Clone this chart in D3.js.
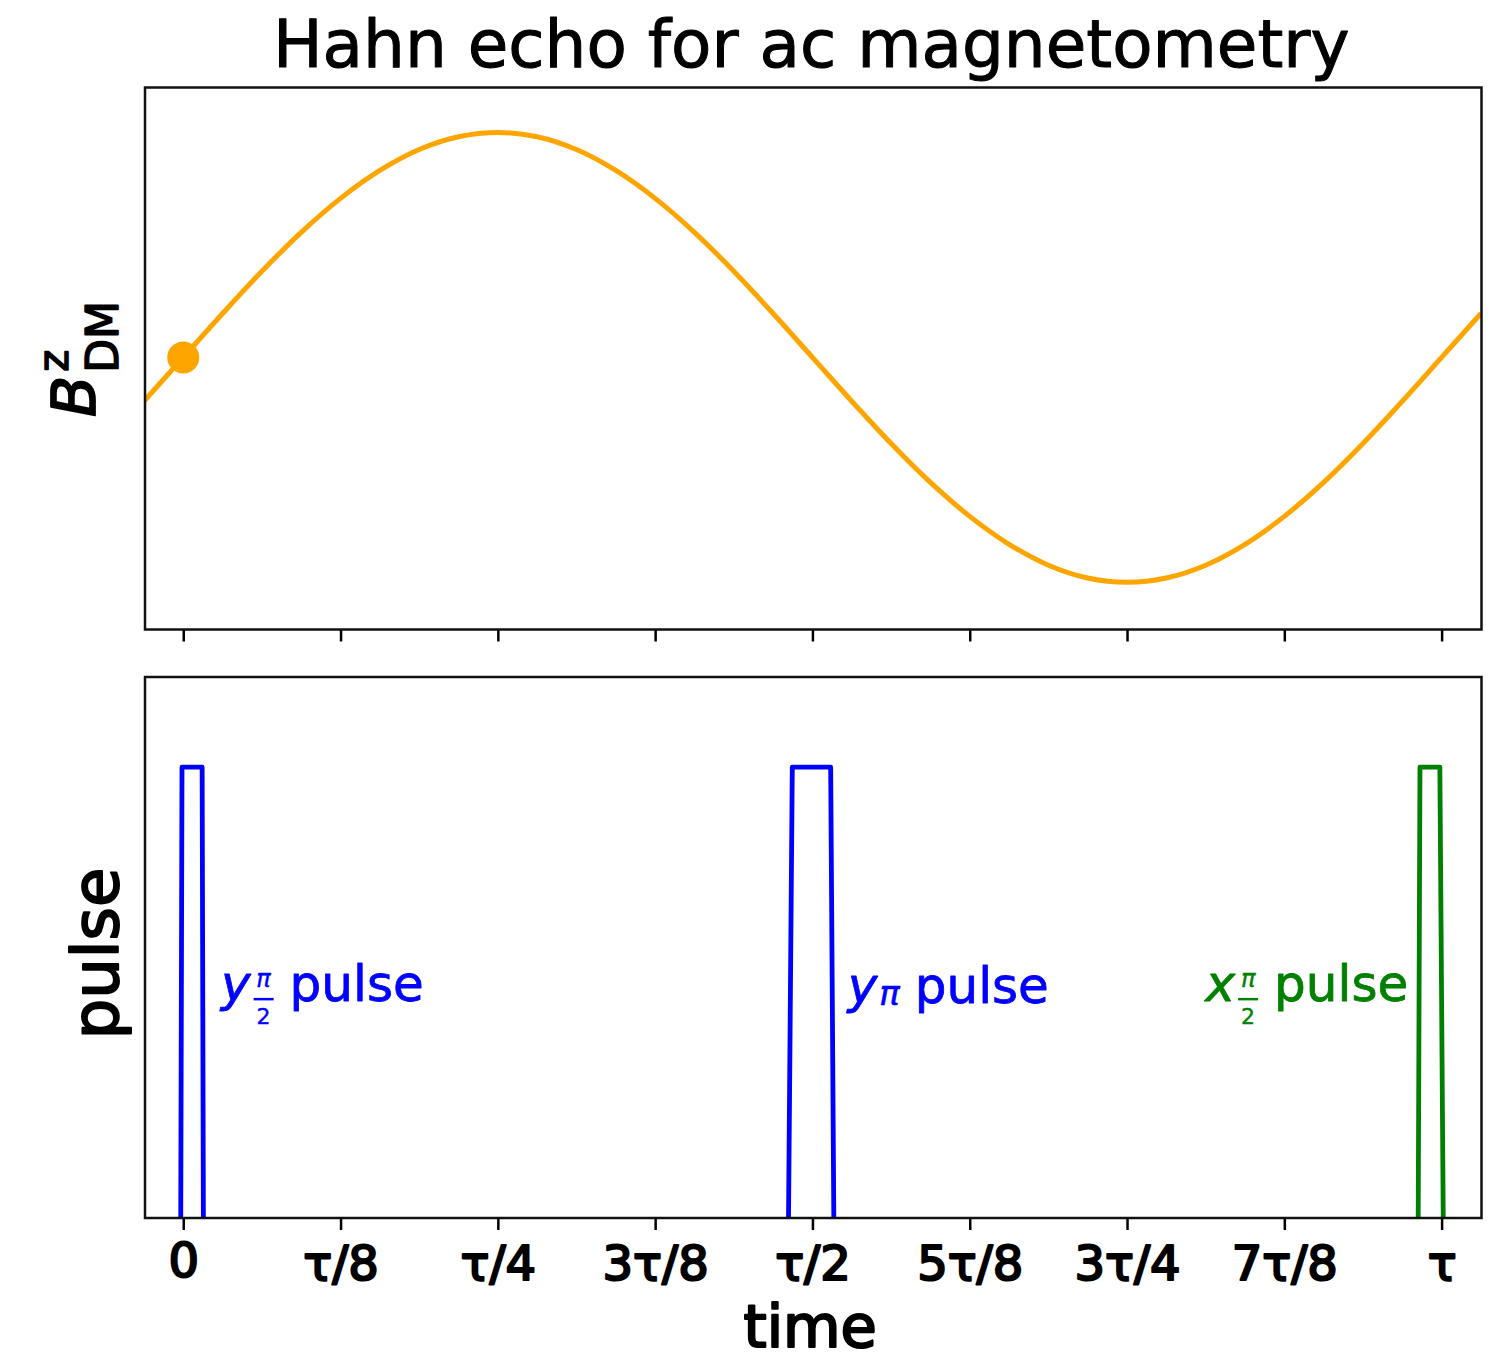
<!DOCTYPE html>
<html>
<head>
<meta charset="utf-8">
<script src="https://cdn.jsdelivr.net/npm/d3@7/dist/d3.min.js"></script>
<style>
  html, body { margin: 0; padding: 0; background: #ffffff; }
  svg { display: block; }
  text { font-family: "DejaVu Sans", sans-serif; }
</style>
</head>
<body>
<svg id="chart" width="1507" height="1362"></svg>
<script>
// ---------------- data ----------------
const chartTitle = "Hahn echo for ac magnetometry";
const xLabel = "time";
const pulseAxisLabel = "pulse";

// dark-matter field B_DM^z sampled along time (units of tau)
const fieldTimes = [-0.03125, 0, 0.03125, 0.0625, 0.09375, 0.125, 0.15625, 0.1875, 0.21875, 0.25,
  0.28125, 0.3125, 0.34375, 0.375, 0.40625, 0.4375, 0.46875, 0.5, 0.53125, 0.5625,
  0.59375, 0.625, 0.65625, 0.6875, 0.71875, 0.75, 0.78125, 0.8125, 0.84375, 0.875,
  0.90625, 0.9375, 0.96875, 1.0, 1.03125];
const fieldValues = [-0.195, 0, 0.195, 0.383, 0.556, 0.707, 0.831, 0.924, 0.981, 1.0,
  0.981, 0.924, 0.831, 0.707, 0.556, 0.383, 0.195, 0, -0.195, -0.383,
  -0.556, -0.707, -0.831, -0.924, -0.981, -1.0, -0.981, -0.924, -0.831, -0.707,
  -0.556, -0.383, -0.195, 0, 0.195];
const markerTime = [0];
const markerValue = [0];

// pulses (time in units of tau, amplitude)
const pulseYHalfTimes = [-0.002, -0.001, 0.015, 0.016];
const pulseYPiTimes = [0.481, 0.484, 0.5145, 0.517];
const pulseXHalfTimes = [0.9814, 0.9828, 0.9986, 1.0013];
const pulseLevels = [0, 1, 1, 0];

// pulse annotations
const pulseNames = ["y_half", "y_pi", "x_half"];
const pulseLetters = ["y", "y", "x"];
const pulseSubs = ["frac", "pi", "frac"];
const pulseColors = ["#0000ff", "#0000ff", "#008000"];
const labelTimes = [0.030, 0.528, 0.9735];
const labelLevels = [0.481, 0.478, 0.481];
const labelAnchors = ["start", "start", "end"];

// ticks
const tickValues = [0, 0.125, 0.25, 0.375, 0.5, 0.625, 0.75, 0.875, 1.0];
const tickLabels = ["0", "τ/8", "τ/4", "3τ/8", "τ/2", "5τ/8", "3τ/4", "7τ/8", "τ"];

// ---------------- layout ----------------
const L = 145, R = 1481.5;
const T1 = 87.5, B1 = 629.5;
const T2 = 677, B2 = 1218;

const svg = d3.select("#chart");

const x = d3.scaleLinear().domain([-0.0304, 1.0317]).range([L, R]);
const y1 = d3.scaleLinear().domain([-1.21, 1.2]).range([B1, T1]);
const y2 = d3.scaleLinear().domain([0, 1.2]).range([B2, T2]);

const defs = svg.append("defs");
defs.append("clipPath").attr("id", "clip1").append("rect")
  .attr("x", L).attr("y", T1).attr("width", R - L).attr("height", B1 - T1);
defs.append("clipPath").attr("id", "clip2").append("rect")
  .attr("x", L).attr("y", T2).attr("width", R - L).attr("height", B2 - T2);

function heavy(sel, w) {
  return sel.attr("stroke", function () { return d3.select(this).attr("fill") || "#000"; })
    .attr("stroke-width", w).attr("paint-order", "stroke").attr("stroke-linejoin", "round");
}

// ---------------- title ----------------
heavy(svg.append("text")
  .attr("x", (L + R) / 2 - 2).attr("y", 67)
  .attr("text-anchor", "middle")
  .attr("font-size", 66)
  .attr("fill", "#000")
  .text(chartTitle), 1.0);

// ---------------- top panel ----------------
const fieldData = fieldTimes.map((t, i) => ({ t, v: fieldValues[i] }));
const g1 = svg.append("g");
g1.append("path")
  .datum(fieldData)
  .attr("clip-path", "url(#clip1)")
  .attr("fill", "none")
  .attr("stroke", "#ffa500")
  .attr("stroke-width", 5)
  .attr("stroke-linejoin", "round")
  .attr("d", d3.line().x(d => x(d.t)).y(d => y1(d.v)).curve(d3.curveCatmullRom.alpha(0.5)));

g1.selectAll("circle.marker")
  .data(markerTime.map((t, i) => ({ t, v: markerValue[i] })))
  .join("circle")
  .attr("class", "marker")
  .attr("cx", d => x(d.t)).attr("cy", d => y1(d.v))
  .attr("r", 16)
  .attr("fill", "#ffa500");

const ax1 = g1.append("g").attr("transform", `translate(0,${B1})`)
  .call(d3.axisBottom(x).tickValues(tickValues).tickFormat("").tickSize(12).tickSizeOuter(0));
ax1.select(".domain").remove();
ax1.selectAll(".tick line").attr("stroke", "#000").attr("stroke-width", 2.5);

g1.append("rect")
  .attr("x", L).attr("y", T1).attr("width", R - L).attr("height", B1 - T1)
  .attr("fill", "none").attr("stroke", "#111").attr("stroke-width", 2.5);

// y label B^z_DM (rotated)
const bl = svg.append("g").attr("transform", "translate(95,417) rotate(-90)");
const bMain = heavy(bl.append("text")
  .attr("x", 0).attr("y", 0)
  .attr("font-size", 60).attr("font-style", "italic")
  .attr("fill", "#000").text("B"), 1.8);
const bw = bMain.node().getComputedTextLength();
heavy(bl.append("text").attr("x", bw + 4).attr("y", -27)
  .attr("font-size", 42).attr("fill", "#000").text("z"), 1.5);
heavy(bl.append("text").attr("x", bw + 3).attr("y", 23)
  .attr("font-size", 44).attr("fill", "#000").text("DM"), 1.5);

// ---------------- bottom panel ----------------
const g2 = svg.append("g");
const pulseLine = d3.line().x(d => x(d.t)).y(d => y2(d.v));
const pulseSeries = [pulseYHalfTimes, pulseYPiTimes, pulseXHalfTimes].map((ts, k) => ({
  name: pulseNames[k],
  color: pulseColors[k],
  pts: ts.map((t, i) => ({ t, v: pulseLevels[i] }))
}));
g2.selectAll("path.pulse")
  .data(pulseSeries)
  .join("path")
  .attr("class", "pulse")
  .attr("clip-path", "url(#clip2)")
  .attr("fill", "none")
  .attr("stroke", d => d.color)
  .attr("stroke-width", 4.8)
  .attr("stroke-linejoin", "round")
  .attr("d", d => pulseLine(d.pts));

// pulse labels
pulseNames.forEach((name, k) => {
  const color = pulseColors[k];
  const grp = g2.append("g");
  const main = heavy(grp.append("text").attr("x", 0).attr("y", 0)
    .attr("font-size", 50).attr("font-style", "italic").attr("fill", color)
    .text(pulseLetters[k]), 0.8);
  let cx = main.node().getComputedTextLength() + 3;
  if (pulseSubs[k] === "frac") {
    const fw = 20;
    heavy(grp.append("text").attr("x", cx + fw / 2).attr("y", -14)
      .attr("text-anchor", "middle").attr("font-size", 24).attr("font-style", "italic")
      .attr("fill", color).text("π"), 0.4);
    grp.append("line").attr("x1", cx).attr("x2", cx + fw)
      .attr("y1", -2).attr("y2", -2).attr("stroke", color).attr("stroke-width", 2.5);
    heavy(grp.append("text").attr("x", cx + fw / 2).attr("y", 23)
      .attr("text-anchor", "middle").attr("font-size", 22)
      .attr("fill", color).text("2"), 0.4);
    cx += fw + 16;
  } else {
    const s = heavy(grp.append("text").attr("x", cx - 1).attr("y", 2)
      .attr("font-size", 34).attr("font-style", "italic")
      .attr("fill", color).text("π"), 0.6);
    cx += s.node().getComputedTextLength() + 14;
  }
  const p = heavy(grp.append("text").attr("x", cx).attr("y", 0)
    .attr("font-size", 50).attr("fill", color).text("pulse"), 0.8);
  const total = cx + p.node().getComputedTextLength();
  const ax = x(labelTimes[k]);
  const ay = y2(labelLevels[k]);
  const ox = labelAnchors[k] === "end" ? ax - total : ax;
  grp.attr("transform", `translate(${ox},${ay})`);
});

const ax2 = g2.append("g").attr("transform", `translate(0,${B2})`)
  .call(d3.axisBottom(x).tickValues(tickValues)
    .tickFormat((d, i) => tickLabels[i]).tickSize(12).tickSizeOuter(0).tickPadding(0));
ax2.select(".domain").remove();
ax2.selectAll(".tick line").attr("stroke", "#000").attr("stroke-width", 2.5);
ax2.selectAll(".tick text")
  .attr("font-family", "DejaVu Sans")
  .attr("font-size", 48)
  .attr("fill", "#000")
  .attr("dy", null)
  .attr("y", (d, i) => tickLabels[i] === "0" ? 59 : 62);
heavy(ax2.selectAll(".tick text"), 2.2);

g2.append("rect")
  .attr("x", L).attr("y", T2).attr("width", R - L).attr("height", B2 - T2)
  .attr("fill", "none").attr("stroke", "#111").attr("stroke-width", 2.5);

// axis labels
heavy(svg.append("text")
  .attr("x", (L + R) / 2 - 3).attr("y", 1347)
  .attr("text-anchor", "middle").attr("font-size", 59)
  .attr("fill", "#000").text(xLabel), 2.2);

heavy(svg.append("text")
  .attr("transform", `translate(118,${(T2 + B2) / 2 + 6}) rotate(-90)`)
  .attr("text-anchor", "middle").attr("font-size", 64)
  .attr("fill", "#000").text(pulseAxisLabel), 2);
</script>
</body>
</html>
